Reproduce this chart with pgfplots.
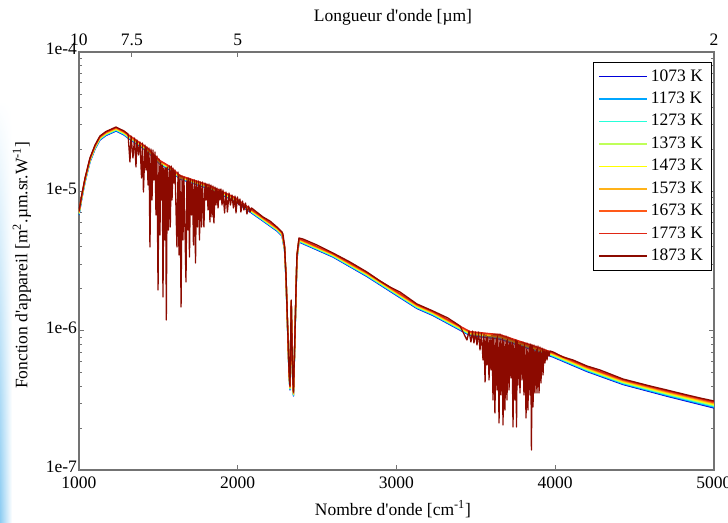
\documentclass[border=0pt]{standalone}
\usepackage{fontspec}
\setmainfont{Liberation Serif}
\usepackage{pgfplots}
\usepackage{pgfplotstable}
\pgfplotsset{compat=1.18}
\usetikzlibrary{fadings}

\definecolor{c1073}{rgb}{0,0,0.85}
\definecolor{c1173}{rgb}{0,0.65,1}
\definecolor{c1273}{rgb}{0.15,1,0.85}
\definecolor{c1373}{rgb}{0.75,1,0.35}
\definecolor{c1473}{rgb}{1,1,0}
\definecolor{c1573}{rgb}{1,0.7,0.1}
\definecolor{c1673}{rgb}{1,0.35,0.1}
\definecolor{c1773}{rgb}{0.88,0.15,0.08}
\definecolor{c1873}{rgb}{0.55,0.04,0}
\definecolor{stripblue}{rgb}{0.55,0.8,0.95}

% lower-temperature curves (continuum)
\pgfplotstableread{
x c1773 c1673 c1573 c1473 c1373 c1273 c1173 c1073
1000 7.166e-6 7.107e-6 7.049e-6 6.991e-6 6.933e-6 6.876e-6 6.820e-6 6.764e-6
1016 9.181e-6 9.105e-6 9.030e-6 8.956e-6 8.882e-6 8.809e-6 8.737e-6 8.665e-6
1038 1.2363e-5 1.2262e-5 1.2161e-5 1.2061e-5 1.1962e-5 1.1863e-5 1.1766e-5 1.1669e-5
1069 1.7203e-5 1.7062e-5 1.6921e-5 1.6782e-5 1.6644e-5 1.6507e-5 1.6371e-5 1.6236e-5
1101 2.1326e-5 2.1151e-5 2.0977e-5 2.0804e-5 2.0633e-5 2.0463e-5 2.0295e-5 2.0128e-5
1132 2.4748e-5 2.4544e-5 2.4342e-5 2.4142e-5 2.3943e-5 2.3746e-5 2.3551e-5 2.3357e-5
1170 2.6656e-5 2.6437e-5 2.6219e-5 2.6003e-5 2.5789e-5 2.5577e-5 2.5367e-5 2.5158e-5
1233 2.8715e-5 2.8479e-5 2.8244e-5 2.8012e-5 2.7781e-5 2.7553e-5 2.7326e-5 2.7101e-5
1284 2.6878e-5 2.6657e-5 2.6438e-5 2.6220e-5 2.6004e-5 2.5790e-5 2.5578e-5 2.5367e-5
1309 2.5581e-5 2.5370e-5 2.5161e-5 2.4954e-5 2.4749e-5 2.4545e-5 2.4343e-5 2.4143e-5
1428 2.0635e-5 2.0465e-5 2.0297e-5 2.0130e-5 1.9964e-5 1.9800e-5 1.9637e-5 1.9475e-5
1510 1.6647e-5 1.6510e-5 1.6374e-5 1.6239e-5 1.6106e-5 1.5973e-5 1.5842e-5 1.5711e-5
1573 1.5073e-5 1.4949e-5 1.4826e-5 1.4704e-5 1.4583e-5 1.4463e-5 1.4344e-5 1.4225e-5
1636 1.2990e-5 1.2883e-5 1.2777e-5 1.2672e-5 1.2568e-5 1.2465e-5 1.2362e-5 1.2260e-5
1806 1.1195e-5 1.1103e-5 1.1012e-5 1.0921e-5 1.0831e-5 1.0742e-5 1.0654e-5 1.0566e-5
1970 9.181e-6 9.105e-6 9.030e-6 8.956e-6 8.882e-6 8.809e-6 8.737e-6 8.665e-6
2159 6.489e-6 6.436e-6 6.383e-6 6.330e-6 6.278e-6 6.226e-6 6.175e-6 6.124e-6
2247 5.500e-6 5.455e-6 5.410e-6 5.366e-6 5.322e-6 5.278e-6 5.235e-6 5.191e-6
2279 5.065e-6 5.023e-6 4.982e-6 4.941e-6 4.900e-6 4.860e-6 4.820e-6 4.780e-6
2295 4.018e-6 3.985e-6 3.952e-6 3.920e-6 3.888e-6 3.856e-6 3.824e-6 3.792e-6
2304 2.488e-6 2.468e-6 2.448e-6 2.428e-6 2.408e-6 2.388e-6 2.368e-6 2.348e-6
2313 1.1828e-6 1.1731e-6 1.1634e-6 1.1538e-6 1.1443e-6 1.1349e-6 1.1256e-6 1.1163e-6
2323 5.177e-7 5.134e-7 5.092e-7 5.050e-7 5.009e-7 4.968e-7 4.927e-7 4.886e-7
2329 3.974e-7 3.941e-7 3.909e-7 3.877e-7 3.845e-7 3.813e-7 3.782e-7 3.751e-7
2337 1.646e-6 1.633e-6 1.619e-6 1.606e-6 1.593e-6 1.580e-6 1.567e-6 1.554e-6
2345 5.177e-7 5.134e-7 5.092e-7 5.050e-7 5.009e-7 4.968e-7 4.927e-7 4.886e-7
2351 3.599e-7 3.569e-7 3.540e-7 3.511e-7 3.482e-7 3.454e-7 3.425e-7 3.397e-7
2361 1.0026e-6 9.943e-7 9.862e-7 9.781e-7 9.700e-7 9.620e-7 9.541e-7 9.462e-7
2367 1.942e-6 1.926e-6 1.910e-6 1.894e-6 1.879e-6 1.863e-6 1.848e-6 1.833e-6
2373 3.463e-6 3.434e-6 3.406e-6 3.378e-6 3.350e-6 3.323e-6 3.295e-6 3.268e-6
2386 4.586e-6 4.548e-6 4.511e-6 4.474e-6 4.437e-6 4.400e-6 4.364e-6 4.328e-6
2600 3.579e-6 3.550e-6 3.521e-6 3.492e-6 3.463e-6 3.435e-6 3.407e-6 3.379e-6
2814 2.6120e-6 2.5879e-6 2.5639e-6 2.5402e-6 2.5167e-6 2.4934e-6 2.4703e-6 2.4475e-6
3129 1.5396e-6 1.5254e-6 1.5113e-6 1.4973e-6 1.4834e-6 1.4697e-6 1.4561e-6 1.4426e-6
3230 1.3711e-6 1.3584e-6 1.3458e-6 1.3334e-6 1.3211e-6 1.3089e-6 1.2968e-6 1.2848e-6
3463 9.853e-7 9.762e-7 9.671e-7 9.582e-7 9.493e-7 9.405e-7 9.318e-7 9.232e-7
3652 9.365e-7 9.268e-7 9.173e-7 9.079e-7 8.985e-7 8.893e-7 8.801e-7 8.711e-7
3841 7.939e-7 7.857e-7 7.776e-7 7.696e-7 7.617e-7 7.539e-7 7.461e-7 7.385e-7
3986 6.955e-7 6.883e-7 6.813e-7 6.743e-7 6.673e-7 6.605e-7 6.537e-7 6.470e-7
4200 5.514e-7 5.452e-7 5.390e-7 5.329e-7 5.269e-7 5.209e-7 5.150e-7 5.092e-7
4427 4.448e-7 4.398e-7 4.348e-7 4.299e-7 4.250e-7 4.202e-7 4.155e-7 4.108e-7
4704 3.703e-7 3.656e-7 3.610e-7 3.564e-7 3.518e-7 3.474e-7 3.429e-7 3.386e-7
5000 3.083e-7 3.039e-7 2.995e-7 2.952e-7 2.910e-7 2.868e-7 2.827e-7 2.786e-7
}\lowtab

% 1873 K curve (full detail)
\pgfplotstableread{
x y
1000 7.225e-6
1016 9.257e-6
1038 1.2466e-5
1069 1.7346e-5
1101 2.1503e-5
1132 2.4953e-5
1170 2.6877e-5
1233 2.8953e-5
1284 2.7101e-5
1309 2.5793e-5
1321 1.6238e-5
1328 2.4953e-5
1340 1.7347e-5
1350 2.4142e-5
1359 1.4951e-5
1365 2.3357e-5
1375 1.8229e-5
1384 2.2598e-5
1394 1.2465e-5
1400 2.2228e-5
1406 9.891e-6
1416 2.1504e-5
1422 1.4228e-5
1428 2.0806e-5
1435 1.1102e-5
1441 2.0465e-5
1447 3.986e-6
1454 2.0130e-5
1460 8.667e-6
1466 1.9800e-5
1472 1.2059e-5
1479 1.9156e-5
1485 6.765e-6
1491 1.7930e-5
1498 1.958e-6
1504 1.7063e-5
1510 4.860e-6
1515 1.6238e-5
1520 8.667e-6
1525 1.5453e-5
1529 1.745e-6
1535 1.4706e-5
1542 4.475e-6
1546 1.4706e-5
1550 1.193e-6
1556 1.4951e-5
1563 5.279e-6
1569 1.5200e-5
1575 5.547e-6
1581 1.5200e-5
1586 8.667e-6
1592 1.4706e-5
1598 1.1475e-5
1605 1.4228e-5
1617 3.986e-6
1624 1.3765e-5
1630 3.493e-6
1636 1.3098e-5
1643 1.479e-6
1649 1.2884e-5
1655 4.475e-6
1661 1.2673e-5
1674 2.235e-6
1680 1.2465e-5
1687 5.279e-6
1691 1.2465e-5
1696 3.380e-6
1702 1.2260e-5
1709 6.765e-6
1715 1.2059e-5
1721 4.120e-6
1728 1.2059e-5
1734 3.060e-6
1740 1.1861e-5
1746 5.547e-6
1753 1.1861e-5
1759 4.475e-6
1765 1.1666e-5
1772 5.547e-6
1778 1.1666e-5
1787 5.547e-6
1794 1.1475e-5
1800 8.667e-6
1806 1.1287e-5
1813 7.347e-6
1819 1.1287e-5
1825 6.025e-6
1831 1.1102e-5
1838 6.545e-6
1844 1.0920e-5
1850 5.926e-6
1857 1.0742e-5
1863 7.980e-6
1869 1.0566e-5
1876 7.594e-6
1882 1.0393e-5
1888 8.667e-6
1894 1.0393e-5
1901 7.980e-6
1907 1.0222e-5
1917 6.992e-6
1926 9.891e-6
1935 7.108e-6
1945 9.728e-6
1954 7.980e-6
1964 9.413e-6
1973 7.594e-6
1983 9.259e-6
1989 6.992e-6
1998 9.108e-6
2008 7.980e-6
2014 8.811e-6
2020 7.108e-6
2030 8.525e-6
2039 7.347e-6
2049 8.248e-6
2058 6.877e-6
2068 7.849e-6
2077 7.108e-6
2087 7.594e-6
2159 6.545e-6
2203 6.126e-6
2247 5.546e-6
2279 5.107e-6
2285 4.941e-6
2295 4.0515e-6
2304 2.509e-6
2313 1.1926e-6
2323 5.220e-7
2329 4.007e-7
2337 1.660e-6
2345 5.220e-7
2351 3.629e-7
2361 1.0109e-6
2367 1.958e-6
2373 3.4915e-6
2386 4.624e-6
2411 4.549e-6
2499 4.120e-6
2600 3.609e-6
2707 3.111e-6
2814 2.636e-6
2896 2.2726e-6
2959 2.058e-6
3022 1.8946e-6
3129 1.5540e-6
3230 1.3839e-6
3324 1.2327e-6
3400 1.0802e-6
3444 8.572e-7
3457 9.946e-7
3469 8.293e-7
3479 9.946e-7
3488 8.157e-7
3498 9.783e-7
3507 7.892e-7
3517 9.783e-7
3526 7.267e-7
3535 9.621e-7
3545 6.160e-7
3551 9.464e-7
3558 4.282e-7
3564 9.309e-7
3570 5.670e-7
3576 9.157e-7
3583 4.426e-7
3589 9.157e-7
3595 5.221e-7
3602 9.309e-7
3608 3.179e-7
3614 9.464e-7
3620 2.566e-7
3627 9.464e-7
3633 3.751e-7
3639 9.464e-7
3646 2.174e-7
3652 9.464e-7
3658 3.453e-7
3665 9.309e-7
3671 2.103e-7
3677 9.157e-7
3683 2.695e-7
3690 9.157e-7
3696 3.179e-7
3702 9.007e-7
3709 3.751e-7
3715 8.859e-7
3721 4.574e-7
3728 8.714e-7
3734 2.035e-7
3740 8.572e-7
3746 3.179e-7
3752 8.572e-7
3756 2.035e-7
3761 8.431e-7
3765 4.074e-7
3772 8.293e-7
3778 3.569e-7
3784 8.293e-7
3791 4.426e-7
3797 8.293e-7
3803 3.453e-7
3809 8.157e-7
3816 2.362e-7
3822 8.157e-7
3828 2.695e-7
3835 8.024e-7
3841 3.453e-7
3846 8.024e-7
3850 1.392e-7
3855 7.892e-7
3860 2.833e-7
3866 7.892e-7
3872 3.569e-7
3879 7.763e-7
3885 3.569e-7
3891 7.763e-7
3898 3.569e-7
3904 7.636e-7
3910 4.212e-7
3917 7.511e-7
3923 4.806e-7
3929 7.388e-7
3935 5.861e-7
3942 7.267e-7
3948 6.160e-7
3954 7.148e-7
3961 6.580e-7
3967 7.148e-7
3986 7.031e-7
4049 6.472e-7
4112 6.160e-7
4200 5.577e-7
4282 5.221e-7
4427 4.499e-7
4597 4.008e-7
4704 3.751e-7
4805 3.512e-7
4912 3.287e-7
5000 3.128e-7
}\toptab

\begin{document}
\begin{tikzpicture}
\shade[left color=stripblue, right color=white, path fading=north] (-45.14pt,-30.29pt) rectangle (-38.3pt,211pt);
\begin{axis}[
  at={(0pt,0pt)}, anchor=south west,
  scale only axis, width=362.86pt, height=238.86pt,
  xmin=1000, xmax=5000, ymode=log, ymin=1e-7, ymax=1e-4,
  xtick={1000,2000,3000,4000,5000}, xticklabels={1000,2000,3000,4000,5000},
  xtick pos=left,
  ytick={1e-7,1e-6,1e-5,1e-4}, yticklabels={1e-7,1e-6,1e-5,1e-4},
  minor ytick={2e-7,3e-7,4e-7,5e-7,6e-7,7e-7,8e-7,9e-7,2e-6,3e-6,4e-6,5e-6,6e-6,7e-6,8e-6,9e-6,2e-5,3e-5,4e-5,5e-5,6e-5,7e-5,8e-5,9e-5},
  tick align=inside,
  major tick length=3pt, minor tick length=1.8pt,
  axis line style={black!55, line width=0.6pt},
  every tick/.style={black!55, line width=0.5pt},
  tick label style={text=black},
  yticklabel style={inner xsep=1pt, yshift=1.6pt},
  xticklabel style={yshift=-0.6pt},
  xlabel={Nombre d\textquotesingle onde [cm\textsuperscript{-1}]},
  ylabel={Fonction d\textquotesingle appareil [m\textsuperscript{2}.µm.sr.W\textsuperscript{-1}]},
  xlabel style={at={(axis description cs:0.4945,-0.0933)}, anchor=center},
  ylabel style={at={(axis description cs:-0.0898,0.49)}, anchor=center},
  every axis plot/.append style={line width=0.75pt, line join=round},
  legend cell align=left,
  legend style={at={(0.997,0.976)}, anchor=north east, draw=black, line width=0.5pt, fill=white, row sep=0.7pt},
  legend image code/.code={\draw[#1, line width=0.9pt] (0pt,0pt) -- (27pt,0pt);},
]
\addplot[c1073] table[x=x, y=c1073] {\lowtab};
\addplot[c1173] table[x=x, y=c1173] {\lowtab};
\addplot[c1273] table[x=x, y=c1273] {\lowtab};
\addplot[c1373] table[x=x, y=c1373] {\lowtab};
\addplot[c1473] table[x=x, y=c1473] {\lowtab};
\addplot[c1573] table[x=x, y=c1573] {\lowtab};
\addplot[c1673] table[x=x, y=c1673] {\lowtab};
\addplot[c1773] table[x=x, y=c1773] {\lowtab};
\addplot[c1873] table[x=x, y=y] {\toptab};
\legend{1073 K,1173 K,1273 K,1373 K,1473 K,1573 K,1673 K,1773 K,1873 K}
\end{axis}
\begin{axis}[
  at={(0pt,0pt)}, anchor=south west,
  scale only axis, width=362.86pt, height=238.86pt,
  xmin=1000, xmax=5000, ymin=0, ymax=1,
  axis x line*=top, axis y line=none,
  xtick={1000,1333.33,2000,5000}, xticklabels={10,7.5,5,2},
  xtick align=inside,
  major tick length=3pt,
  axis line style={black!55, line width=0.6pt},
  every tick/.style={black!55, line width=0.5pt},
  tick label style={text=black},
  xlabel={Longueur d\textquotesingle onde [µm]},
  xlabel style={at={(axis description cs:0.4945,1.0837)}, anchor=center},
]
\end{axis}
\pgfresetboundingbox
\path[use as bounding box] (-45.14pt,-30.29pt) rectangle (370.86pt,268.57pt);
\end{tikzpicture}
\end{document}
